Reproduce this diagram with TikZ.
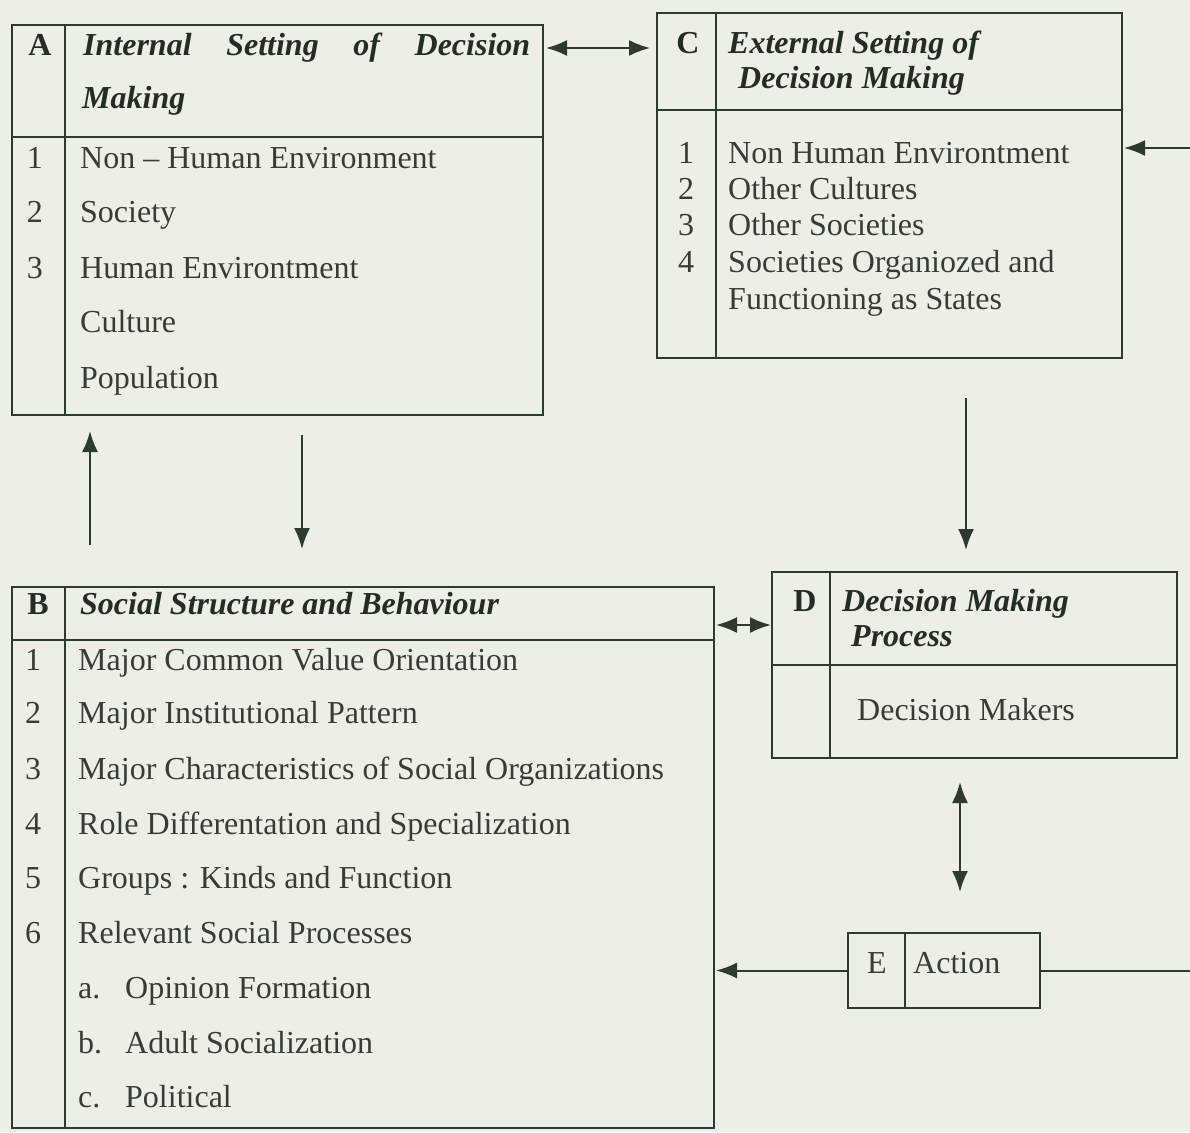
\documentclass[tikz,border=0pt]{standalone}
\usepackage{fontspec}
\setmainfont{Liberation Serif}
\usetikzlibrary{arrows.meta,calc}
\definecolor{ln}{RGB}{45,58,52}
\definecolor{tx}{RGB}{55,60,58}
\definecolor{hx}{RGB}{35,45,40}
\definecolor{bg}{RGB}{238,238,233}
\begin{document}
\begin{tikzpicture}[x=1pt,y=-1pt,
  frame/.style={draw=ln,line width=2pt,anchor=north west,inner sep=0pt,outer sep=0pt},
  rule/.style={draw=ln,line width=2pt},
  t/.style={anchor=base west,inner sep=0pt,text=tx,font=\fontsize{32}{38}\selectfont},
  num/.style={anchor=base,inner sep=0pt,text=tx,font=\fontsize{32}{38}\selectfont},
  hd/.style={anchor=base west,inner sep=0pt,text=hx,font=\fontsize{32}{38}\selectfont\bfseries\itshape},
  letter/.style={anchor=base,inner sep=0pt,text=hx,font=\fontsize{32}{38}\selectfont\bfseries},
  arr/.style={draw=ln,line width=2pt,-{Latex[length=21pt,width=16pt]}},
  dbl/.style={draw=ln,line width=2pt,{Latex[length=21pt,width=16pt]}-{Latex[length=21pt,width=16pt]}},
]
\fill[bg] (0,0) rectangle (1190,1132);
\useasboundingbox (0,0) rectangle (1190,1132);

% ---------- Box A ----------
\node[frame,minimum width=531pt,minimum height=390pt] (A) at (12,25) {};
\draw[rule] (12,137) -- (543,137);
\draw[rule] (65,25) -- (65,415);
\node[letter] (Al) at (40,56) {A};
\node[hd] (Ah1) at (83,56) {\makebox[447pt][s]{Internal\hfill Setting\hfill of\hfill Decision}};
\node[hd] (Ah2) at (82,108) {Making};
\node[num] (An1) at (35,168) {1};
\node[num] (An2) at (35,222) {2};
\node[num] (An3) at (35,278) {3};
\node[t] (At1) at (80,168) {Non – Human Environment};
\node[t] (At2) at (80,222) {Society};
\node[t] (At3) at (80,278) {Human Environtment};
\node[t] (At4) at (80,332) {Culture};
\node[t] (At5) at (80,388) {Population};

% ---------- Box C ----------
\node[frame,minimum width=465pt,minimum height=345pt] (C) at (657,13) {};
\draw[rule] (657,110) -- (1122,110);
\draw[rule] (716,13) -- (716,358);
\node[letter] (Cl) at (688,53) {C};
\node[hd] (Ch1) at (728,53) {External Setting of};
\node[hd] (Ch2) at (738,88) {Decision Making};
\node[num] (Cn1) at (686,163) {1};
\node[num] (Cn2) at (686,199) {2};
\node[num] (Cn3) at (686,235) {3};
\node[num] (Cn4) at (686,272) {4};
\node[t] (Ct1) at (728,163) {Non Human Environtment};
\node[t] (Ct2) at (728,199) {Other Cultures};
\node[t] (Ct3) at (728,235) {Other Societies};
\node[t] (Ct4) at (728,272) {Societies Organiozed and};
\node[t] (Ct5) at (728,309) {Functioning as States};

% ---------- Box B ----------
\node[frame,minimum width=702pt,minimum height=541pt] (B) at (12,587) {};
\draw[rule] (12,640) -- (714,640);
\draw[rule] (65,587) -- (65,1128);
\node[letter] (Bl) at (38,614) {B};
\node[hd] (Bh) at (80,614) {Social Structure and Behaviour};
\node[num] (Bn1) at (33,670) {1};
\node[num] (Bn2) at (33,723) {2};
\node[num] (Bn3) at (33,779) {3};
\node[num] (Bn4) at (33,834) {4};
\node[num] (Bn5) at (33,888) {5};
\node[num] (Bn6) at (33,943) {6};
\node[t] (Bt1) at (78,670) {Major Common Value Orientation};
\node[t] (Bt2) at (78,723) {Major Institutional Pattern};
\node[t] (Bt3) at (78,779) {Major Characteristics of Social Organizations};
\node[t] (Bt4) at (78,834) {Role Differentation and Specialization};
\node[t] (Bt5) at (78,888) {Groups : Kinds and Function};
\node[t] (Bt6) at (78,943) {Relevant Social Processes};
\node[t] (Ba) at (78,998) {a.};
\node[t] (Bb) at (78,1053) {b.};
\node[t] (Bc) at (78,1107) {c.};
\node[t] (Bta) at (125,998) {Opinion Formation};
\node[t] (Btb) at (125,1053) {Adult Socialization};
\node[t] (Btc) at (125,1107) {Political};

% ---------- Box D ----------
\node[frame,minimum width=405pt,minimum height=186pt] (D) at (772,572) {};
\draw[rule] (772,665) -- (1177,665);
\draw[rule] (830,572) -- (830,758);
\node[letter] (Dl) at (805,611) {D};
\node[hd] (Dh1) at (842,611) {Decision Making};
\node[hd] (Dh2) at (851,646) {Process};
\node[t] (Dt) at (857,720) {Decision Makers};

% ---------- Box E ----------
\node[frame,minimum width=192pt,minimum height=75pt] (E) at (848,933) {};
\draw[rule] (905,933) -- (905,1008);
\node[num] (El) at (877,973) {E};
\node[t] (Et) at (913,973) {Action};

% ---------- Connectors ----------
\coordinate (rightedge) at (1190,0);
\coordinate (cin) at (1190,148);
\draw[dbl] ($(A.north east)+(3,23)$) -- ($(C.north west)+(-7,35)$);
\draw[arr] (cin) -- ($(C.north east)+(2,135)$);
\draw[arr] ($(C.south west)+(309,40)$) -- ($(D.north west)+(194,-22)$);
\draw[arr] ($(A.south west)+(290,20)$) -- ($(B.north west)+(290,-38)$);
\draw[arr] ($(B.north west)+(78,-42)$) -- ($(A.south west)+(78,16)$);
\draw[dbl] ($(B.north east)+(2,38)$) -- ($(D.north west)+(-1,53)$);
\draw[dbl] ($(D.south west)+(188,24)$) -- ($(E.north west)+(112,-41)$);
\draw[arr] (E.west) -- ($(B.east |- E.west)+(2,0)$);
\draw[rule] (E.east) -- (E.east -| rightedge);
\end{tikzpicture}
\end{document}
